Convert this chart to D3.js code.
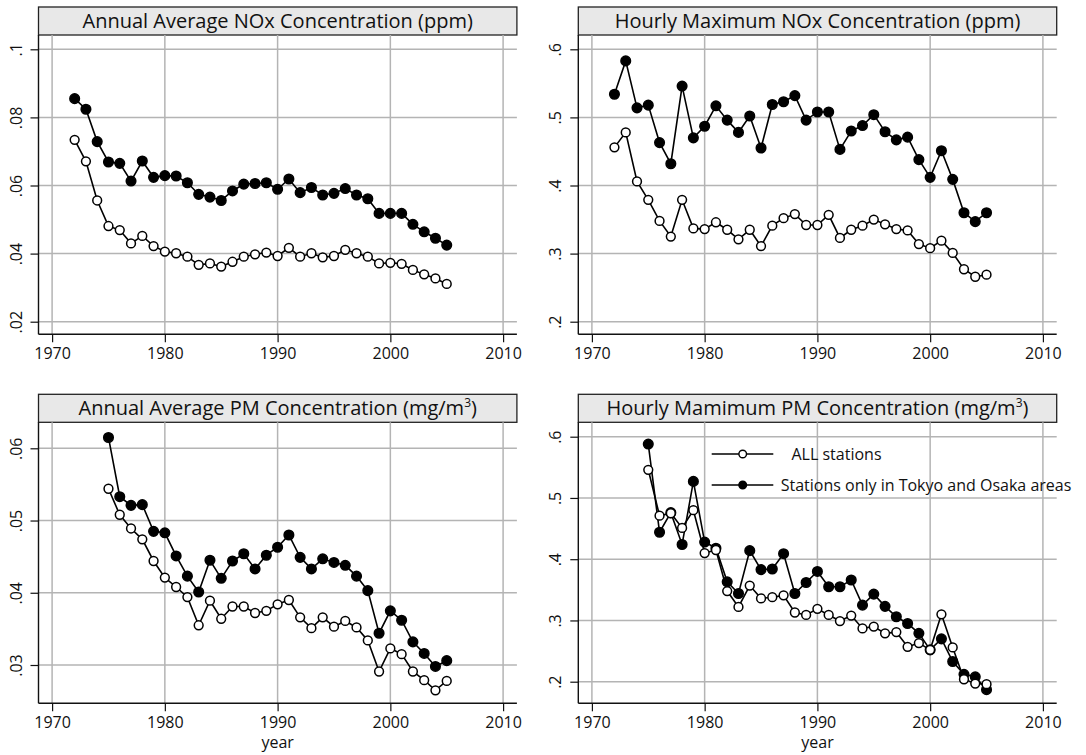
<!DOCTYPE html>
<html>
<head>
<meta charset="utf-8">
<script src="https://cdn.jsdelivr.net/npm/d3@7"></script>
<style>
  html, body { margin: 0; padding: 0; background: #fff; }
  svg { display: block; font-family: "Open Sans", "Noto Sans", sans-serif; }
</style>
</head>
<body>
<svg id="chart" width="1086" height="755"></svg>
<script>
// ---------------- data ----------------
const yearsNox = [1972,1973,1974,1975,1976,1977,1978,1979,1980,1981,1982,1983,1984,1985,1986,1987,1988,1989,1990,1991,1992,1993,1994,1995,1996,1997,1998,1999,2000,2001,2002,2003,2004,2005];
const yearsPm = [1975,1976,1977,1978,1979,1980,1981,1982,1983,1984,1985,1986,1987,1988,1989,1990,1991,1992,1993,1994,1995,1996,1997,1998,1999,2000,2001,2002,2003,2004,2005];

const noxAvgAll =    [0.0734,0.0671,0.0556,0.0481,0.0469,0.0430,0.0452,0.0422,0.0406,0.0401,0.0391,0.0367,0.0371,0.0362,0.0376,0.0391,0.0398,0.0403,0.0393,0.0417,0.0391,0.0401,0.0389,0.0393,0.0411,0.0401,0.0391,0.0371,0.0373,0.0370,0.0352,0.0339,0.0327,0.0311];
const noxAvgTokyo =  [0.0855,0.0824,0.0729,0.0669,0.0665,0.0613,0.0672,0.0624,0.0629,0.0628,0.0608,0.0574,0.0566,0.0556,0.0584,0.0604,0.0606,0.0608,0.0589,0.0619,0.0579,0.0594,0.0572,0.0577,0.0591,0.0572,0.0561,0.0518,0.0518,0.0518,0.0486,0.0464,0.0445,0.0425];

const noxMaxAll =    [0.456,0.478,0.406,0.379,0.348,0.325,0.379,0.337,0.336,0.346,0.335,0.321,0.335,0.311,0.341,0.352,0.358,0.342,0.342,0.357,0.323,0.335,0.341,0.350,0.343,0.336,0.334,0.314,0.308,0.319,0.301,0.277,0.266,0.269];
const noxMaxTokyo =  [0.534,0.583,0.514,0.518,0.463,0.432,0.546,0.470,0.487,0.517,0.496,0.478,0.502,0.455,0.519,0.523,0.532,0.496,0.508,0.508,0.453,0.480,0.488,0.504,0.479,0.467,0.471,0.438,0.412,0.451,0.409,0.360,0.347,0.360];

const pmAvgAll =     [0.0544,0.0508,0.0489,0.0474,0.0444,0.0421,0.0408,0.0394,0.0355,0.0389,0.0364,0.0381,0.0381,0.0372,0.0375,0.0384,0.0390,0.0366,0.0351,0.0366,0.0353,0.0361,0.0352,0.0334,0.0291,0.0323,0.0315,0.0291,0.0279,0.0265,0.0278];
const pmAvgTokyo =   [0.0615,0.0533,0.0521,0.0522,0.0485,0.0483,0.0451,0.0423,0.0401,0.0445,0.0420,0.0444,0.0454,0.0433,0.0452,0.0463,0.0480,0.0449,0.0433,0.0447,0.0442,0.0438,0.0423,0.0403,0.0344,0.0375,0.0362,0.0332,0.0316,0.0298,0.0306];

const pmMaxAll =     [0.546,0.471,0.475,0.451,0.480,0.410,0.415,0.348,0.322,0.357,0.336,0.338,0.341,0.313,0.309,0.319,0.309,0.299,0.308,0.287,0.290,0.279,0.281,0.257,0.263,0.252,0.310,0.256,0.204,0.197,0.196];
const pmMaxTokyo =   [0.588,0.444,0.476,0.424,0.527,0.428,0.418,0.363,0.344,0.414,0.383,0.384,0.409,0.344,0.362,0.380,0.355,0.355,0.366,0.325,0.343,0.323,0.306,0.295,0.279,0.252,0.270,0.233,0.212,0.208,0.187];

const xTicks = [1970,1980,1990,2000,2010];
const yTicksNoxAvg = [0.02,0.04,0.06,0.08,0.1];
const yTicksNoxMax = [0.2,0.3,0.4,0.5,0.6];
const yTicksPmAvg  = [0.03,0.04,0.05,0.06];
const yTicksPmMax  = [0.2,0.3,0.4,0.5,0.6];

const titles = [
  "Annual Average NOx Concentration (ppm)",
  "Hourly Maximum NOx Concentration (ppm)",
  "Annual Average PM Concentration (mg/m\u00B3)",
  "Hourly Mamimum PM Concentration (mg/m\u00B3)"
];
const legendLabels = ["ALL stations", "Stations only in Tokyo and Osaka areas"];
const xTitle = "year";

// ---------------- layout ----------------
const panels = [
  {title: titles[0], years: yearsNox, all: noxAvgAll, tokyo: noxAvgTokyo, yTicks: yTicksNoxAvg,
   left: 38.5, headTop: 7, top: 35, bottom: 334.3, yRef: [0.02, 0.1], yPix: [321.7, 49.3], xLabel: false},
  {title: titles[1], years: yearsNox, all: noxMaxAll, tokyo: noxMaxTokyo, yTicks: yTicksNoxMax,
   left: 578.3, headTop: 7, top: 35, bottom: 334.3, yRef: [0.2, 0.6], yPix: [321.7, 49.3], xLabel: false},
  {title: titles[2], years: yearsPm, all: pmAvgAll, tokyo: pmAvgTokyo, yTicks: yTicksPmAvg,
   left: 38.5, headTop: 394.3, top: 422.3, bottom: 703.3, yRef: [0.03, 0.06], yPix: [665, 448.3], xLabel: true},
  {title: titles[3], years: yearsPm, all: pmMaxAll, tokyo: pmMaxTokyo, yTicks: yTicksPmMax,
   left: 578.3, headTop: 394.3, top: 422.3, bottom: 703.3, yRef: [0.2, 0.6], yPix: [681.7, 436.7], xLabel: true, legend: true}
];
const plotW = 478.4;
const gridColor = "#b4b4b4";
const FONT = '"Open Sans", "Noto Sans", sans-serif';
const fmt = v => d3.format("~g")(v).replace(/^0\./, ".");

const svg = d3.select("#chart");

panels.forEach(p => {
  const g = svg.append("g");
  const x = d3.scaleLinear().domain([1970, 2010]).range([p.left + 13.6, p.left + 464.6]);
  const y = d3.scaleLinear().domain(p.yRef).range(p.yPix);
  const right = p.left + plotW;

  // header
  g.append("rect")
    .attr("x", p.left).attr("y", p.headTop)
    .attr("width", plotW).attr("height", p.top - p.headTop)
    .attr("fill", "#e8e8e8").attr("stroke", "#222").attr("stroke-width", 1.3);
  const ht = g.append("text")
    .attr("x", p.left + plotW / 2).attr("y", (p.headTop + p.top) / 2 + 7)
    .attr("text-anchor", "middle").attr("font-size", 20).attr("fill", "#111")
    .attr("font-family", FONT);
  const parts = p.title.split("\u00B3");
  ht.append("tspan").text(parts[0]);
  if (parts.length > 1) {
    ht.append("tspan").attr("font-size", 12).attr("dy", -8).text("3");
    ht.append("tspan").attr("dy", 8).text(parts[1]);
  }

  // grid
  g.selectAll(".hg").data(p.yTicks).enter().append("line")
    .attr("x1", p.left).attr("x2", right)
    .attr("y1", d => y(d)).attr("y2", d => y(d))
    .attr("stroke", gridColor).attr("stroke-width", 1.5);
  g.selectAll(".vg").data(xTicks).enter().append("line")
    .attr("x1", d => x(d)).attr("x2", d => x(d))
    .attr("y1", p.top).attr("y2", p.bottom)
    .attr("stroke", gridColor).attr("stroke-width", 1.5);

  // axes
  const yAxis = d3.axisLeft(y).tickValues(p.yTicks).tickFormat(fmt).tickSize(8).tickPadding(4);
  const ya = g.append("g").attr("transform", `translate(${p.left},0)`).call(yAxis)
    .attr("font-family", FONT).attr("font-size", 16);
  ya.select(".domain").remove();
  ya.selectAll(".tick line").attr("stroke", "#111").attr("stroke-width", 1.2);
  ya.selectAll(".tick text")
    .attr("fill", "#111")
    .attr("x", null).attr("dy", null)
    .attr("text-anchor", "middle")
    .attr("transform", "translate(-17,0) rotate(-90)")
    .attr("y", 0);
  g.append("line").attr("x1", p.left).attr("x2", p.left).attr("y1", p.top).attr("y2", p.bottom)
    .attr("stroke", "#111").attr("stroke-width", 1.4);

  const xAxis = d3.axisBottom(x).tickValues(xTicks).tickFormat(d3.format("d")).tickSize(8).tickPadding(5);
  const xa = g.append("g").attr("transform", `translate(0,${p.bottom})`).call(xAxis)
    .attr("font-family", FONT).attr("font-size", 16);
  xa.select(".domain").remove();
  xa.selectAll(".tick line").attr("stroke", "#111").attr("stroke-width", 1.2);
  xa.selectAll(".tick text").attr("fill", "#111");
  g.append("line").attr("x1", p.left).attr("x2", right).attr("y1", p.bottom).attr("y2", p.bottom)
    .attr("stroke", "#111").attr("stroke-width", 1.4);

  if (p.xLabel) {
    g.append("text").attr("x", p.left + plotW / 2).attr("y", p.bottom + 45)
      .attr("text-anchor", "middle").attr("font-size", 16).attr("font-family", FONT)
      .attr("fill", "#111").text(xTitle);
  }

  // series
  const line = d3.line().x(d => x(d[0])).y(d => y(d[1]));
  const series = [
    {vals: p.tokyo, fill: "#000", r: 4.8},
    {vals: p.all, fill: "#fff", r: 4.4}
  ];
  series.forEach(s => {
    const pts = p.years.map((yr, i) => [yr, s.vals[i]]);
    g.append("path").datum(pts).attr("d", line)
      .attr("fill", "none").attr("stroke", "#000").attr("stroke-width", 1.6);
  });
  series.forEach(s => {
    const pts = p.years.map((yr, i) => [yr, s.vals[i]]);
    g.selectAll(null).data(pts).enter().append("circle")
      .attr("cx", d => x(d[0])).attr("cy", d => y(d[1])).attr("r", s.r)
      .attr("fill", s.fill).attr("stroke", "#000").attr("stroke-width", 1.5);
  });

  if (p.legend) {
    const rows = [
      {label: legendLabels[0], fill: "#fff", ly: 454, tx: 791.5},
      {label: legendLabels[1], fill: "#000", ly: 485, tx: 780.7}
    ];
    rows.forEach(r => {
      g.append("line").attr("x1", 711.7).attr("x2", 773.3).attr("y1", r.ly).attr("y2", r.ly)
        .attr("stroke", "#000").attr("stroke-width", 1.6);
      g.append("circle").attr("cx", 742.7).attr("cy", r.ly).attr("r", 3.8)
        .attr("fill", r.fill).attr("stroke", "#000").attr("stroke-width", 1.4);
      g.append("text").attr("x", r.tx).attr("y", r.ly + 5.5)
        .attr("font-size", 16).attr("font-family", FONT).attr("fill", "#111").text(r.label);
    });
  }
});
</script>
</body>
</html>
